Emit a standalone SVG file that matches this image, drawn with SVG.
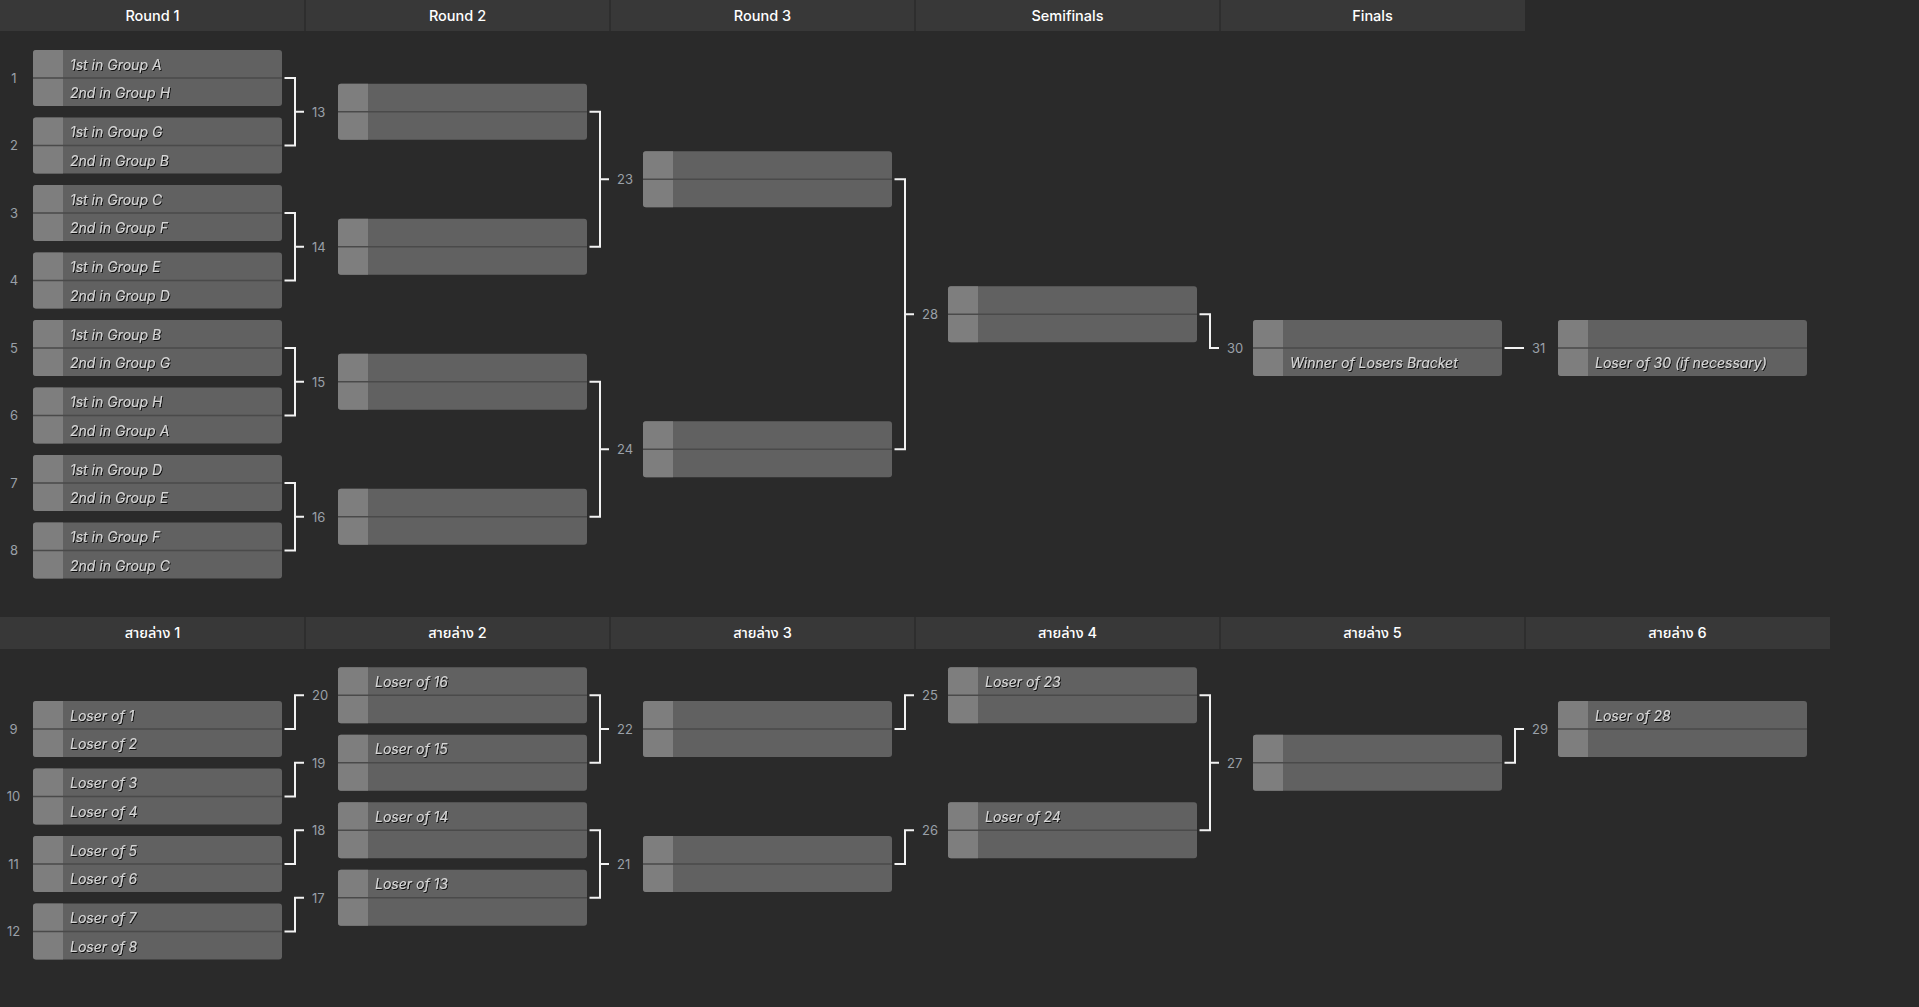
<svg xmlns="http://www.w3.org/2000/svg" xmlns:xlink="http://www.w3.org/1999/xlink" width="1919" height="1007" viewBox="0 0 1919 1007">
<style>
.hdr{fill:#383838}
.hdiv{stroke:#2b2b2b;stroke-width:1.5}
.htxt{font-family:Inter,"Noto Sans","Noto Sans Thai","DejaVu Sans",sans-serif;font-size:14.5px;font-weight:500;fill:#ffffff;text-anchor:middle}
.t{font-family:Inter,"Noto Sans","Liberation Sans",sans-serif;font-size:14px;font-style:italic;fill:#d6d6d6;filter:url(#sh)}
.num{font-family:Inter,"Noto Sans","Liberation Sans",sans-serif;font-size:13px;fill:#9aa0a8}
.mid{text-anchor:middle}
.conn path{fill:none;stroke:#f2f2f2;stroke-width:2}
</style>
<defs>
<filter id="sh" x="-5%" y="-30%" width="110%" height="160%">
<feDropShadow dx="1" dy="1" stdDeviation="0.4" flood-color="#000000" flood-opacity="0.85"/>
</filter>
<symbol id="box" width="249" height="56" viewBox="0 0 249 56" overflow="visible">
<rect x="0" y="0" width="249" height="56" rx="3" fill="#616161"/>
<path d="M3,0 H30 V56 H3 A3,3 0 0 1 0,53 V3 A3,3 0 0 1 3,0 Z" fill="#7e7e7e"/>
<line x1="0" y1="28" x2="249" y2="28" stroke="#4a4a4a" stroke-width="1.6"/>
</symbol>
</defs>
<rect x="0" y="0" width="1919" height="1007" fill="#2a2a2a"/>

<g id="headers">
<rect class="hdr" x="0" y="0" width="1525" height="31"/>
<line class="hdiv" x1="305" y1="0" x2="305" y2="31"/>
<line class="hdiv" x1="610" y1="0" x2="610" y2="31"/>
<line class="hdiv" x1="915" y1="0" x2="915" y2="31"/>
<line class="hdiv" x1="1220" y1="0" x2="1220" y2="31"/>
<text class="htxt" x="152.5" y="20.5">Round 1</text>
<text class="htxt" x="457.5" y="20.5">Round 2</text>
<text class="htxt" x="762.5" y="20.5">Round 3</text>
<text class="htxt" x="1067.5" y="20.5">Semifinals</text>
<text class="htxt" x="1372.5" y="20.5">Finals</text>
<rect class="hdr" x="0" y="617" width="1830" height="32"/>
<line class="hdiv" x1="305" y1="617" x2="305" y2="649"/>
<line class="hdiv" x1="610" y1="617" x2="610" y2="649"/>
<line class="hdiv" x1="915" y1="617" x2="915" y2="649"/>
<line class="hdiv" x1="1220" y1="617" x2="1220" y2="649"/>
<line class="hdiv" x1="1525" y1="617" x2="1525" y2="649"/>
<text class="htxt" x="152.5" y="638">สายล่าง 1</text>
<text class="htxt" x="457.5" y="638">สายล่าง 2</text>
<text class="htxt" x="762.5" y="638">สายล่าง 3</text>
<text class="htxt" x="1067.5" y="638">สายล่าง 4</text>
<text class="htxt" x="1372.5" y="638">สายล่าง 5</text>
<text class="htxt" x="1677.5" y="638">สายล่าง 6</text>
</g>

<g id="connectors" class="conn">
<path d="M284.5,78 H295 V145.5 H284.5 M295,111.75 H304"/>
<path d="M284.5,213 H295 V280.5 H284.5 M295,246.75 H304"/>
<path d="M284.5,348 H295 V415.5 H284.5 M295,381.75 H304"/>
<path d="M284.5,483 H295 V550.5 H284.5 M295,516.75 H304"/>
<path d="M589.5,111.75 H600 V246.75 H589.5 M600,179.25 H609"/>
<path d="M589.5,381.75 H600 V516.75 H589.5 M600,449.25 H609"/>
<path d="M894.5,179.25 H905 V449.25 H894.5 M905,314.25 H914"/>
<path d="M1199.5,314.25 H1210 V348 H1219"/>
<path d="M1504.5,348 H1524"/>
<path d="M284.5,729 H295 V695.25 H304"/>
<path d="M284.5,796.5 H295 V762.75 H304"/>
<path d="M284.5,864 H295 V830.25 H304"/>
<path d="M284.5,931.5 H295 V897.75 H304"/>
<path d="M589.5,695.25 H600 V762.75 H589.5 M600,729 H609"/>
<path d="M589.5,830.25 H600 V897.75 H589.5 M600,864 H609"/>
<path d="M894.5,729 H905 V695.25 H914"/>
<path d="M894.5,864 H905 V830.25 H914"/>
<path d="M1199.5,695.25 H1210 V830.25 H1199.5 M1210,762.75 H1219"/>
<path d="M1504.5,762.75 H1515 V729 H1524"/>
</g>

<g id="connector-labels" class="num">
<text x="312" y="116.5">13</text>
<text x="312" y="251.5">14</text>
<text x="312" y="386.5">15</text>
<text x="312" y="521.5">16</text>
<text x="617" y="184">23</text>
<text x="617" y="454">24</text>
<text x="922" y="319">28</text>
<text x="1227" y="352.75">30</text>
<text x="1532" y="352.75">31</text>
<text x="312" y="700">20</text>
<text x="312" y="767.5">19</text>
<text x="312" y="835">18</text>
<text x="312" y="902.5">17</text>
<text x="617" y="733.75">22</text>
<text x="617" y="868.75">21</text>
<text x="922" y="700">25</text>
<text x="922" y="835">26</text>
<text x="1227" y="767.5">27</text>
<text x="1532" y="733.75">29</text>
</g>

<g id="m1"><text class="num mid" x="14" y="82.75">1</text><use href="#box" x="33" y="50"/><text class="t" x="70" y="69.5">1st in Group A</text><text class="t" x="70" y="98">2nd in Group H</text></g>
<g id="m2"><text class="num mid" x="14" y="150.25">2</text><use href="#box" x="33" y="117.5"/><text class="t" x="70" y="137">1st in Group G</text><text class="t" x="70" y="165.5">2nd in Group B</text></g>
<g id="m3"><text class="num mid" x="14" y="217.75">3</text><use href="#box" x="33" y="185"/><text class="t" x="70" y="204.5">1st in Group C</text><text class="t" x="70" y="233">2nd in Group F</text></g>
<g id="m4"><text class="num mid" x="14" y="285.25">4</text><use href="#box" x="33" y="252.5"/><text class="t" x="70" y="272">1st in Group E</text><text class="t" x="70" y="300.5">2nd in Group D</text></g>
<g id="m5"><text class="num mid" x="14" y="352.75">5</text><use href="#box" x="33" y="320"/><text class="t" x="70" y="339.5">1st in Group B</text><text class="t" x="70" y="368">2nd in Group G</text></g>
<g id="m6"><text class="num mid" x="14" y="420.25">6</text><use href="#box" x="33" y="387.5"/><text class="t" x="70" y="407">1st in Group H</text><text class="t" x="70" y="435.5">2nd in Group A</text></g>
<g id="m7"><text class="num mid" x="14" y="487.75">7</text><use href="#box" x="33" y="455"/><text class="t" x="70" y="474.5">1st in Group D</text><text class="t" x="70" y="503">2nd in Group E</text></g>
<g id="m8"><text class="num mid" x="14" y="555.25">8</text><use href="#box" x="33" y="522.5"/><text class="t" x="70" y="542">1st in Group F</text><text class="t" x="70" y="570.5">2nd in Group C</text></g>

<g id="m13"><use href="#box" x="338" y="83.75"/></g>
<g id="m14"><use href="#box" x="338" y="218.75"/></g>
<g id="m15"><use href="#box" x="338" y="353.75"/></g>
<g id="m16"><use href="#box" x="338" y="488.75"/></g>
<g id="m23"><use href="#box" x="643" y="151.25"/></g>
<g id="m24"><use href="#box" x="643" y="421.25"/></g>
<g id="m28"><use href="#box" x="948" y="286.25"/></g>
<g id="m30"><use href="#box" x="1253" y="320"/><text class="t" x="1290" y="368">Winner of Losers Bracket</text></g>
<g id="m31"><use href="#box" x="1558" y="320"/><text class="t" x="1595" y="368">Loser of 30 (if necessary)</text></g>

<g id="m9"><text class="num mid" x="13.5" y="733.75">9</text><use href="#box" x="33" y="701"/><text class="t" x="70" y="720.5">Loser of 1</text><text class="t" x="70" y="749">Loser of 2</text></g>
<g id="m10"><text class="num mid" x="13.5" y="801.25">10</text><use href="#box" x="33" y="768.5"/><text class="t" x="70" y="788">Loser of 3</text><text class="t" x="70" y="816.5">Loser of 4</text></g>
<g id="m11"><text class="num mid" x="13.5" y="868.75">11</text><use href="#box" x="33" y="836"/><text class="t" x="70" y="855.5">Loser of 5</text><text class="t" x="70" y="884">Loser of 6</text></g>
<g id="m12"><text class="num mid" x="13.5" y="936.25">12</text><use href="#box" x="33" y="903.5"/><text class="t" x="70" y="923">Loser of 7</text><text class="t" x="70" y="951.5">Loser of 8</text></g>

<g id="m20"><use href="#box" x="338" y="667.25"/><text class="t" x="375" y="686.75">Loser of 16</text></g>
<g id="m19"><use href="#box" x="338" y="734.75"/><text class="t" x="375" y="754.25">Loser of 15</text></g>
<g id="m18"><use href="#box" x="338" y="802.25"/><text class="t" x="375" y="821.75">Loser of 14</text></g>
<g id="m17"><use href="#box" x="338" y="869.75"/><text class="t" x="375" y="889.25">Loser of 13</text></g>
<g id="m22"><use href="#box" x="643" y="701"/></g>
<g id="m21"><use href="#box" x="643" y="836"/></g>
<g id="m25"><use href="#box" x="948" y="667.25"/><text class="t" x="985" y="686.75">Loser of 23</text></g>
<g id="m26"><use href="#box" x="948" y="802.25"/><text class="t" x="985" y="821.75">Loser of 24</text></g>
<g id="m27"><use href="#box" x="1253" y="734.75"/></g>
<g id="m29"><use href="#box" x="1558" y="701"/><text class="t" x="1595" y="720.5">Loser of 28</text></g>
</svg>
